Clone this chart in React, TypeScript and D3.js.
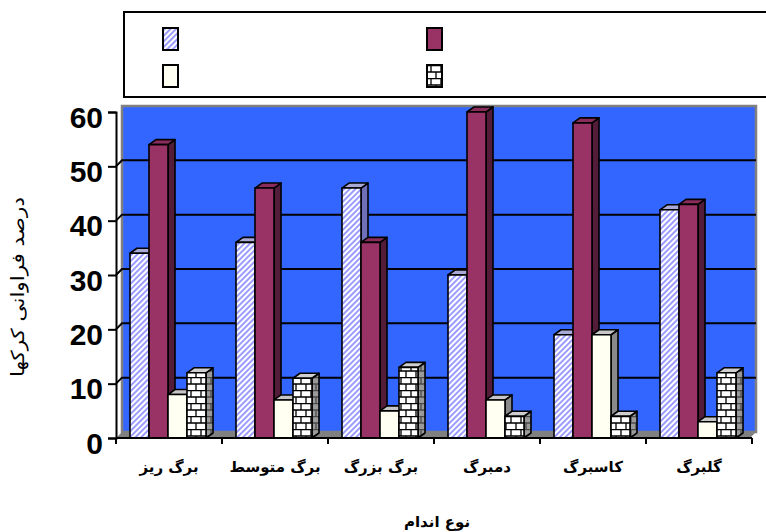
import * as d3 from 'd3';
import React, { useRef, useEffect } from 'react';

const categories = ['برگ ریز', 'برگ متوسط', 'برگ بزرگ', 'دمبرگ', 'کاسبرگ', 'گلبرگ'];
const seriesKeys = ['hatch', 'maroon', 'plain', 'brick'];
const hatchValues = [34, 36, 46, 30, 19, 42];
const maroonValues = [54, 46, 36, 60, 58, 43];
const plainValues = [8, 7, 5, 7, 19, 3];
const brickValues = [12, 11, 13, 4, 4, 12];
const yTicks = [0, 10, 20, 30, 40, 50, 60];
const yTitle = 'درصد فراوانی  کرکها';
const xTitle = 'نوع اندام';

const seriesValues = [hatchValues, maroonValues, plainValues, brickValues];

const looks = {
  hatch: { front: 'url(#hatch)', top: '#a9a9d6', side: '#7070b8' },
  maroon: { front: '#993366', top: '#8a2d5c', side: '#531c39' },
  plain: { front: '#fffff2', top: '#c6c6c6', side: '#8a8a8a' },
  brick: { front: 'url(#brick)', top: '#cfcfcf', side: 'url(#brickSide)' },
};

const W = 766;
const H = 532;
const DX = 7;
const DY = 5;
const WALL = 6;

const Chart = () => {
  const ref = useRef(null);

  useEffect(() => {
    const svg = d3.select(ref.current);
    svg.selectAll('*').remove();

    const x0 = d3.scaleBand().domain(categories).range([116, 752]);
    const x1 = d3.scaleBand().domain(seriesKeys).range([14, 90]);
    const y = d3.scaleLinear().domain([0, 60]).range([438, 112]);

    // patterns
    const defs = svg.append('defs');
    const hatch = defs.append('pattern')
      .attr('id', 'hatch')
      .attr('patternUnits', 'userSpaceOnUse')
      .attr('width', 4)
      .attr('height', 4)
      .attr('patternTransform', 'rotate(45)');
    hatch.append('rect').attr('width', 4).attr('height', 4).attr('fill', '#ffffff');
    hatch.append('rect').attr('width', 2).attr('height', 4).attr('fill', '#9c9cff');

    const brick = (id, bg, line) => {
      const p = defs.append('pattern')
        .attr('id', id)
        .attr('patternUnits', 'userSpaceOnUse')
        .attr('width', 10)
        .attr('height', 13);
      p.append('rect').attr('width', 10).attr('height', 13).attr('fill', bg);
      const path = 'M0,0.5H10 M0,7H10 M1,0V6.5 M6,6.5V13';
      p.append('path').attr('d', path).attr('stroke', line).attr('stroke-width', 1.3).attr('fill', 'none');
    };
    brick('brick', '#ffffff', '#000000');
    brick('brickSide', '#9a9a9a', '#4a4a4a');

    // legend box (labels are blank in the source)
    svg.append('rect')
      .attr('x', 124).attr('y', 12)
      .attr('width', 700).attr('height', 85)
      .attr('fill', '#ffffff')
      .attr('stroke', '#000')
      .attr('stroke-width', 2);
    const legendPos = [[163, 28], [427, 28], [163, 65], [427, 65]];
    seriesKeys.forEach((k, i) => {
      svg.append('rect')
        .attr('x', legendPos[i][0]).attr('y', legendPos[i][1])
        .attr('width', 15).attr('height', 22)
        .attr('fill', looks[k].front)
        .attr('stroke', '#000')
        .attr('stroke-width', 2);
    });

    // back wall + floor
    const left = 116;
    const right = 750;
    svg.append('rect')
      .attr('x', left + WALL).attr('y', y(60) - WALL)
      .attr('width', right - left).attr('height', y(0) - y(60))
      .attr('fill', '#3366ff')
      .attr('stroke', '#808080')
      .attr('stroke-width', 2.5);
    svg.append('path')
      .attr('d', `M${left},${y(0)} L${left + WALL},${y(0) - WALL} L${right + WALL},${y(0) - WALL} L${right},${y(0)} Z`)
      .attr('fill', '#808080');

    // gridlines
    yTicks.filter((v) => v > 0 && v < 60).forEach((v) => {
      svg.append('path')
        .attr('d', `M${left},${y(v)} L${left + WALL},${y(v) - WALL} H${right + WALL}`)
        .attr('fill', 'none')
        .attr('stroke', '#000')
        .attr('stroke-width', 2);
    });

    // bars
    const y0 = y(0);
    categories.forEach((c, i) => {
      seriesKeys.forEach((k, j) => {
        const v = seriesValues[j][i];
        const bx = x0(c) + x1(k);
        const w = x1.bandwidth();
        const t = y(v);
        const look = looks[k];
        const g = svg.append('g')
          .attr('stroke', '#000')
          .attr('stroke-width', 1.6)
          .attr('stroke-linejoin', 'round');
        g.append('path')
          .attr('d', `M${bx + w},${t} L${bx + w + DX},${t - DY} L${bx + w + DX},${y0 - DY} L${bx + w},${y0} Z`)
          .attr('fill', look.side);
        g.append('path')
          .attr('d', `M${bx},${t} L${bx + DX},${t - DY} L${bx + w + DX},${t - DY} L${bx + w},${t} Z`)
          .attr('fill', look.top);
        g.append('rect')
          .attr('x', bx).attr('y', t)
          .attr('width', w).attr('height', y0 - t)
          .attr('fill', look.front);
      });
    });

    // y axis
    const yAxis = svg.append('g')
      .attr('transform', `translate(${left},0)`)
      .call(d3.axisLeft(y).tickValues(yTicks).tickSize(8).tickPadding(5));
    yAxis.select('.domain').attr('stroke', '#000').attr('stroke-width', 2);
    yAxis.selectAll('line').attr('stroke', '#000').attr('stroke-width', 2);
    yAxis.selectAll('text')
      .attr('dy', '0.5em')
      .attr('fill', '#000')
      .style('font-family', '"Liberation Sans", Arial, sans-serif')
      .style('font-weight', 'bold')
      .style('font-size', '30px');

    // x axis
    svg.append('line')
      .attr('x1', left).attr('x2', right + 2)
      .attr('y1', y0).attr('y2', y0)
      .attr('stroke', '#000').attr('stroke-width', 2);
    const bounds = categories.map((c) => x0(c)).concat([x0.range()[1]]);
    bounds.forEach((b) => {
      svg.append('line')
        .attr('x1', b).attr('x2', b)
        .attr('y1', y0).attr('y2', y0 + 6)
        .attr('stroke', '#000').attr('stroke-width', 2);
    });
    svg.selectAll('.cat')
      .data(categories)
      .enter()
      .append('text')
      .attr('class', 'cat')
      .attr('x', (d) => x0(d) + x0.bandwidth() / 2)
      .attr('y', 472)
      .attr('text-anchor', 'middle')
      .attr('direction', 'rtl')
      .style('font-family', '"DejaVu Sans", sans-serif')
      .style('font-weight', 'bold')
      .style('font-size', '15px')
      .text((d) => d);

    svg.append('text')
      .attr('x', 437).attr('y', 527)
      .attr('text-anchor', 'middle')
      .style('font-family', '"DejaVu Sans", sans-serif')
      .style('font-weight', 'bold')
      .style('font-size', '15px')
      .text(xTitle);

    svg.append('text')
      .attr('transform', 'translate(17,287) rotate(-90)')
      .attr('text-anchor', 'middle')
      .attr('dominant-baseline', 'central')
      .attr('textLength', 180)
      .attr('lengthAdjust', 'spacingAndGlyphs')
      .style('font-family', '"DejaVu Sans", sans-serif')
      .style('font-size', '18px')
      .text(yTitle);
  }, []);

  return <svg ref={ref} width={W} height={H} style={{ display: 'block', background: '#fff' }} />;
};

export default function App() {
  return (
    <div style={{ position: 'absolute', left: 0, top: 0 }}>
      <Chart />
    </div>
  );
}
